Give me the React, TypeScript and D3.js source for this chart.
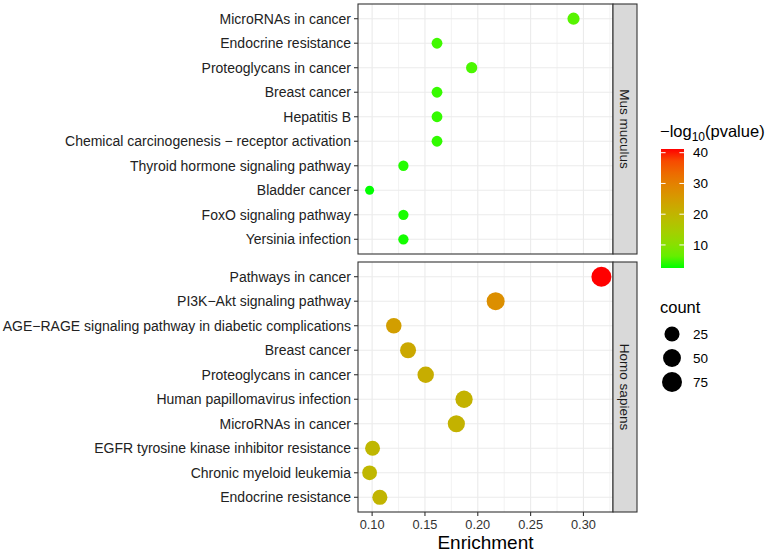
import React from 'react';
import * as d3 from 'd3';

// Mus musculus panel (top)
const musTerms = ['MicroRNAs in cancer', 'Endocrine resistance', 'Proteoglycans in cancer', 'Breast cancer',
    'Hepatitis B', 'Chemical carcinogenesis \u2212 receptor activation', 'Thyroid hormone signaling pathway',
    'Bladder cancer', 'FoxO signaling pathway', 'Yersinia infection'];
const musEnrichment = [0.2906, 0.1614, 0.1942, 0.1614, 0.1614, 0.1614, 0.1296, 0.0976, 0.1296, 0.1296];
const musCount = [9, 5, 6, 5, 5, 5, 4, 3, 4, 4];
const musLogP = [5.3, 4.0, 4.5, 3.6, 3.5, 3.4, 3.0, 2.5, 2.8, 2.7];

// Homo sapiens panel (bottom)
const homoTerms = ['Pathways in cancer', 'PI3K\u2212Akt signaling pathway', 'AGE\u2212RAGE signaling pathway in diabetic complications',
    'Breast cancer', 'Proteoglycans in cancer', 'Human papillomavirus infection', 'MicroRNAs in cancer',
    'EGFR tyrosine kinase inhibitor resistance', 'Chronic myeloid leukemia', 'Endocrine resistance'];
const homoEnrichment = [0.317, 0.2169, 0.1205, 0.134, 0.1507, 0.187, 0.1797, 0.1004, 0.0976, 0.1073];
const homoCount = [75, 51, 28, 32, 36, 44, 43, 24, 23, 25];
const homoLogP = [41.2, 27.5, 24.5, 22.5, 21.5, 20.5, 20.5, 19.5, 19.5, 20];

const xTicks = [0.10, 0.15, 0.20, 0.25, 0.30];
const colorTicks = [10, 20, 30, 40];
const sizeBreaks = [25, 50, 75];

const font = '"Liberation Sans", Arial, Helvetica, sans-serif';

export default function App() {
    const width = 767;
    const height = 552;
    const left = 358;
    const right = 613;
    const stripW = 24;
    const panels = [
        { name: 'Mus muculus', terms: musTerms, x: musEnrichment, n: musCount, p: musLogP, top: 4, bottom: 254 },
        { name: 'Homo sapiens', terms: homoTerms, x: homoEnrichment, n: homoCount, p: homoLogP, top: 262, bottom: 512 },
    ];

    const allX = [...musEnrichment, ...homoEnrichment];
    const [xmin, xmax] = d3.extent(allX) as [number, number];
    const pad = (xmax - xmin) * 0.05;
    const xScale = d3.scaleLinear().domain([xmin - pad, xmax + pad]).range([left, right]);
    const minorTicks = d3.range(0.075, 0.35, 0.05).filter(v => v > xScale.domain()[0] && v < xScale.domain()[1]);

    const allP = [...musLogP, ...homoLogP];
    const pExt = d3.extent(allP) as [number, number];
    const color = d3.scaleLinear<string>().domain(pExt).range(['#00ff00', '#ff0000']).interpolate(d3.interpolateLab);

    const allN = [...musCount, ...homoCount];
    const nExt = d3.extent(allN) as [number, number];
    const rScale = (c: number) => 4.5 + 5.5 * Math.sqrt((c - nExt[0]) / (nExt[1] - nExt[0]));

    // colour bar
    const barX = 661, barW = 23, barTop = 149, barBottom = 268;
    const barScale = d3.scaleLinear().domain(pExt).range([barBottom, barTop]);
    const stops = d3.range(0, 1.0001, 0.1);

    return (
        <svg width={width} height={height} style={{ position: 'absolute', left: 0, top: 0, fontFamily: font }}>
            <defs>
                <linearGradient id="pgrad" x1="0" y1="1" x2="0" y2="0">
                    {stops.map(t => (
                        <stop key={t} offset={t} stopColor={color(pExt[0] + t * (pExt[1] - pExt[0]))} />
                    ))}
                </linearGradient>
            </defs>
            <rect width={width} height={height} fill="#fff" />
            {panels.map(pn => {
                const y = d3.scalePoint().domain(pn.terms).range([pn.top, pn.bottom]).padding(0.6);
                return (
                    <g key={pn.name}>
                        {minorTicks.map(t => (
                            <line key={'m' + t} x1={xScale(t)} x2={xScale(t)} y1={pn.top} y2={pn.bottom} stroke="#ebebeb" strokeWidth={0.6} />
                        ))}
                        {xTicks.map(t => (
                            <line key={'M' + t} x1={xScale(t)} x2={xScale(t)} y1={pn.top} y2={pn.bottom} stroke="#ebebeb" strokeWidth={1.1} />
                        ))}
                        {pn.terms.map(t => (
                            <line key={'h' + t} x1={left} x2={right} y1={y(t)} y2={y(t)} stroke="#ebebeb" strokeWidth={1.1} />
                        ))}
                        {pn.terms.map((t, i) => (
                            <circle key={'c' + t} cx={xScale(pn.x[i])} cy={y(t)} r={rScale(pn.n[i])} fill={color(pn.p[i])} />
                        ))}
                        <rect x={left} y={pn.top} width={right - left} height={pn.bottom - pn.top} fill="none" stroke="#333" strokeWidth={1.1} />
                        <rect x={right} y={pn.top} width={stripW} height={pn.bottom - pn.top} fill="#d9d9d9" stroke="#333" strokeWidth={1.1} />
                        <text transform={`translate(${right + stripW / 2 - 4.8},${(pn.top + pn.bottom) / 2}) rotate(90)`}
                            textAnchor="middle" fontSize={13.5} fill="#1a1a1a">{pn.name}</text>
                        {pn.terms.map(t => (
                            <g key={'t' + t}>
                                <line x1={left - 4} x2={left} y1={y(t)} y2={y(t)} stroke="#333" strokeWidth={1.1} />
                                <text x={left - 7} y={y(t)} dy="0.35em" textAnchor="end" fontSize={14} fill="#222">{t}</text>
                            </g>
                        ))}
                    </g>
                );
            })}
            {xTicks.map(t => (
                <g key={'xt' + t}>
                    <line x1={xScale(t)} x2={xScale(t)} y1={512} y2={516} stroke="#333" strokeWidth={1.1} />
                    <text x={xScale(t)} y={529} textAnchor="middle" fontSize={12.8} fill="#333">{t.toFixed(2)}</text>
                </g>
            ))}
            <text x={(left + right) / 2} y={548.5} textAnchor="middle" fontSize={19} fill="#000">Enrichment</text>

            {/* colour legend */}
            <text x={660} y={137} fontSize={16.5} fill="#000">
                <tspan>&#8722;log</tspan>
                <tspan fontSize={12} dy={4}>10</tspan>
                <tspan dy={-4}>(pvalue)</tspan>
            </text>
            <rect x={barX} y={barTop} width={barW} height={barBottom - barTop} fill="url(#pgrad)" />
            {colorTicks.map(t => (
                <g key={'ct' + t}>
                    <line x1={barX} x2={barX + 4.6} y1={barScale(t)} y2={barScale(t)} stroke="#fff" strokeWidth={1} />
                    <line x1={barX + barW - 4.6} x2={barX + barW} y1={barScale(t)} y2={barScale(t)} stroke="#fff" strokeWidth={1} />
                    <text x={693} y={barScale(t)} dy="0.35em" fontSize={13.5} fill="#000">{t}</text>
                </g>
            ))}

            {/* size legend */}
            <text x={660} y={313} fontSize={16.5} fill="#000">count</text>
            {sizeBreaks.map((b, i) => (
                <g key={'sb' + b}>
                    <circle cx={672} cy={334 + i * 24} r={rScale(b)} fill="#000" />
                    <text x={693} y={334 + i * 24} dy="0.35em" fontSize={13.5} fill="#000">{b}</text>
                </g>
            ))}
        </svg>
    );
}
